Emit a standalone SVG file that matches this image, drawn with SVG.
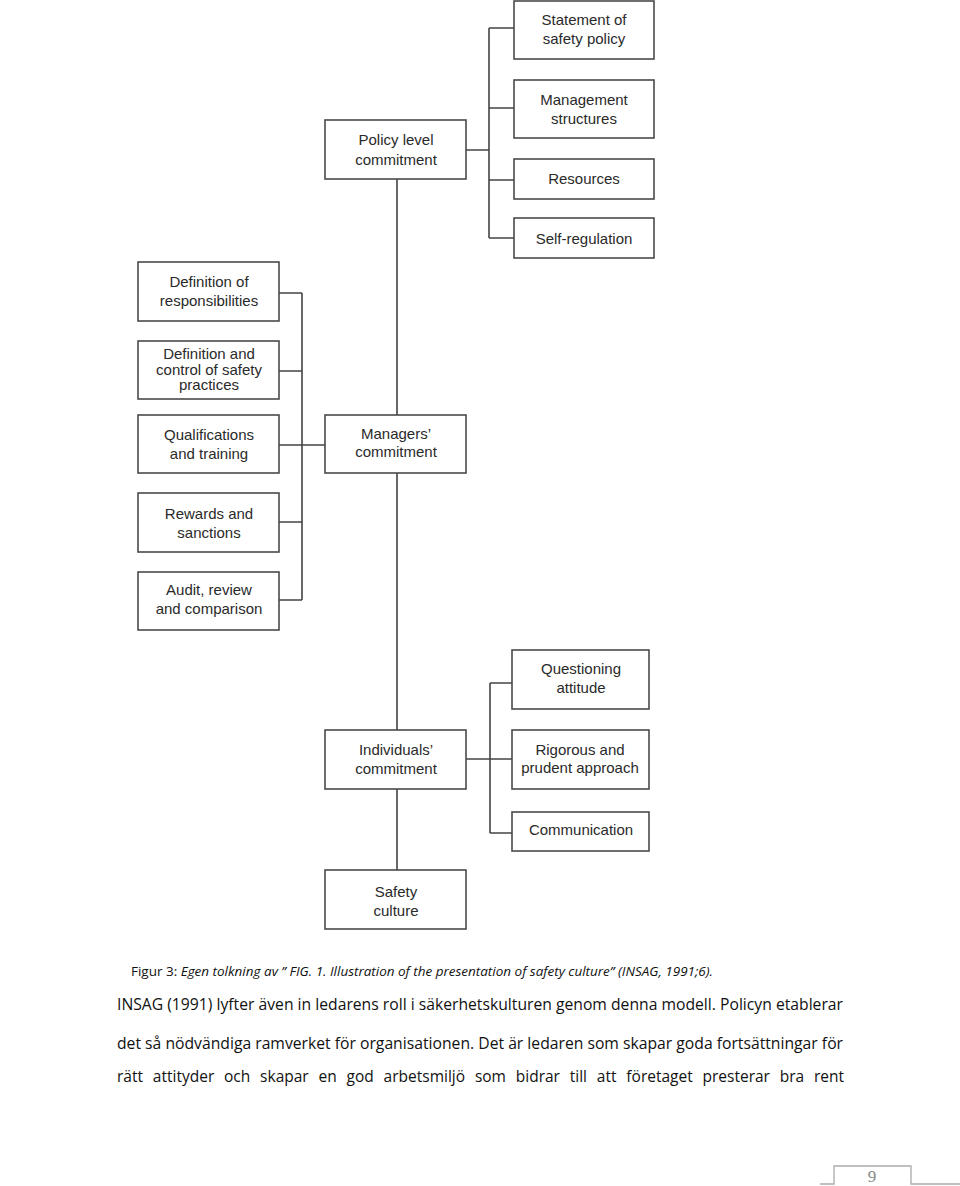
<svg xmlns="http://www.w3.org/2000/svg" width="960" height="1186" viewBox="0 0 960 1186">
<style>
.box{fill:#fff;stroke:#4a4a4a;stroke-width:1.6}
.lbl{font-family:"Liberation Sans",Arial,sans-serif;font-size:15px;fill:#2a2a2a;text-anchor:middle}
.con{fill:none;stroke:#444;stroke-width:1.6}
.body{font-family:"Open Sans","Liberation Sans",sans-serif;font-size:15.5px;fill:#111}
.cap{font-family:"Open Sans","Liberation Sans",sans-serif;font-size:12.5px;fill:#111}
</style>
<rect width="960" height="1186" fill="#fff"/>
<g id="connectors">
<path class="con" d="M466 150H489M489 28V238M489 28H514M489 108H514M489 180H514M489 238H514"/>
<path class="con" d="M397 179V415M397 473V730M397 789V870"/>
<path class="con" d="M279 293H302M279 371H302M279 445H325M279 522H302M279 600H302M302 293V600"/>
<path class="con" d="M466 759H512M490 683V833M490 683H512M490 833H512"/>
</g>
<g id="n-statement"><rect class="box" x="514" y="1" width="140" height="58"/><text class="lbl" x="584" y="24.5">Statement of</text><text class="lbl" x="584" y="43.5">safety policy</text></g>
<g id="n-management"><rect class="box" x="514" y="80" width="140" height="58"/><text class="lbl" x="584" y="105">Management</text><text class="lbl" x="584" y="124">structures</text></g>
<g id="n-resources"><rect class="box" x="514" y="159" width="140" height="40"/><text class="lbl" x="584" y="184">Resources</text></g>
<g id="n-selfreg"><rect class="box" x="514" y="218" width="140" height="40"/><text class="lbl" x="584" y="244">Self-regulation</text></g>
<g id="n-policy"><rect class="box" x="325" y="120" width="141" height="59"/><text class="lbl" x="396" y="145">Policy level</text><text class="lbl" x="396" y="165">commitment</text></g>
<g id="n-defresp"><rect class="box" x="138" y="262" width="141" height="59"/><text class="lbl" x="209" y="287">Definition of</text><text class="lbl" x="209" y="306">responsibilities</text></g>
<g id="n-defcontrol"><rect class="box" x="138" y="341" width="141" height="58"/><text class="lbl" x="209" y="359">Definition and</text><text class="lbl" x="209" y="374.5">control of safety</text><text class="lbl" x="209" y="390">practices</text></g>
<g id="n-qual"><rect class="box" x="138" y="415" width="141" height="58"/><text class="lbl" x="209" y="440">Qualifications</text><text class="lbl" x="209" y="459">and training</text></g>
<g id="n-rewards"><rect class="box" x="138" y="493" width="141" height="59"/><text class="lbl" x="209" y="519">Rewards and</text><text class="lbl" x="209" y="538">sanctions</text></g>
<g id="n-audit"><rect class="box" x="138" y="572" width="141" height="58"/><text class="lbl" x="209" y="595">Audit, review</text><text class="lbl" x="209" y="614">and comparison</text></g>
<g id="n-managers"><rect class="box" x="325" y="415" width="141" height="58"/><text class="lbl" x="396" y="439">Managers’</text><text class="lbl" x="396" y="457">commitment</text></g>
<g id="n-questioning"><rect class="box" x="512" y="650" width="137" height="59"/><text class="lbl" x="581" y="674">Questioning</text><text class="lbl" x="581" y="693">attitude</text></g>
<g id="n-individuals"><rect class="box" x="325" y="730" width="141" height="59"/><text class="lbl" x="396" y="755">Individuals’</text><text class="lbl" x="396" y="774">commitment</text></g>
<g id="n-rigorous"><rect class="box" x="512" y="730" width="137" height="59"/><text class="lbl" x="580" y="755">Rigorous and</text><text class="lbl" x="580" y="773">prudent approach</text></g>
<g id="n-communication"><rect class="box" x="512" y="812" width="137" height="39"/><text class="lbl" x="581" y="835">Communication</text></g>
<g id="n-safety"><rect class="box" x="325" y="870" width="141" height="59"/><text class="lbl" x="396" y="897">Safety</text><text class="lbl" x="396" y="916">culture</text></g>
<text class="cap" x="131" y="976" textLength="582" lengthAdjust="spacingAndGlyphs">Figur 3: <tspan font-style="italic">Egen tolkning av ” FIG. 1. Illustration of the presentation of safety culture” (INSAG, 1991;6).</tspan></text>
<text class="body" x="117" y="1010" textLength="726" lengthAdjust="spacingAndGlyphs">INSAG (1991) lyfter även in ledarens roll i säkerhetskulturen genom denna modell. Policyn etablerar</text>
<text class="body" x="117" y="1049" textLength="726" lengthAdjust="spacingAndGlyphs">det så nödvändiga ramverket för organisationen. Det är ledaren som skapar goda fortsättningar för</text>
<text class="body" x="117" y="1082" word-spacing="5.8">rätt attityder och skapar en god arbetsmiljö som bidrar till att företaget presterar bra rent</text>
<path d="M820 1184H834V1166H911V1184H960" fill="none" stroke="#aaa" stroke-width="1.3"/>
<text x="872" y="1182" font-family="'Liberation Serif',serif" font-size="17" fill="#888" text-anchor="middle">9</text>
</svg>
